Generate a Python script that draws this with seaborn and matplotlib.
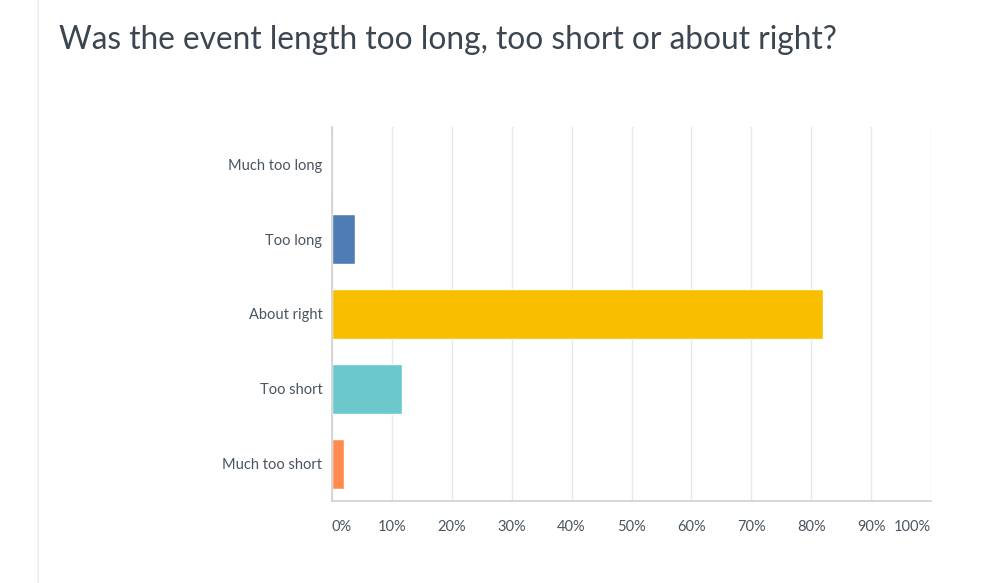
import pandas as pd
import seaborn as sns
import matplotlib.pyplot as plt

categories = ["Much too long", "Too long", "About right", "Too short", "Much too short"]
percents = [0.0, 3.8, 81.9, 11.7, 2.0]
colors = ["#507cb6", "#507cb6", "#f9be00", "#6bc8cd", "#ff8b4f"]
tick_values = [0, 10, 20, 30, 40, 50, 60, 70, 80, 90, 100]
tick_labels = [f"{v}%" for v in tick_values]

df = pd.DataFrame({"answer": categories, "pct": percents})

sns.set_theme(style="white")
plt.rcParams["font.family"] = ["Lato", "DejaVu Sans"]

fig = plt.figure(figsize=(9.91, 5.83), dpi=100)
ax = fig.add_axes([0.335, 0.1407, 0.6045, 0.6415])

sns.barplot(data=df, x="pct", y="answer", hue="answer", order=categories,
            palette=dict(zip(categories, colors)), width=0.667,
            legend=False, ax=ax, saturation=1)

ax.set_xlim(0, 100)
ax.set_ylim(4.5, -0.5)
ax.set_xticks(tick_values)
ax.set_xticklabels(tick_labels)
xt = ax.get_xticklabels()
xt[0].set_ha("left")
xt[-1].set_ha("right")
ax.tick_params(axis="x", length=0, pad=14, labelsize=10.5, labelcolor="#4a5560")
ax.tick_params(axis="y", length=0, pad=7, labelsize=10.5, labelcolor="#4a5560")
ax.set_xlabel("")
ax.set_ylabel("")
ax.xaxis.grid(True, color="#e8e8e8", linewidth=1)
ax.set_axisbelow(True)
for s in ["top", "right"]:
    ax.spines[s].set_visible(False)
ax.spines["left"].set_color("#d0d0d0")
ax.spines["bottom"].set_color("#d0d0d0")
ax.spines["left"].set_linewidth(1.2)
ax.spines["bottom"].set_linewidth(1.2)

# page divider on the left
fig.add_artist(plt.Line2D([38 / 991, 38 / 991], [0, 1], color="#f0f0f0", linewidth=1.5))

fig.text(59 / 991, 1 - 40 / 583, "Was the event length too long, too short or about right?",
         fontsize=22.8, color="#3b4650", va="center", ha="left")

fig.savefig("out.png", dpi=100)
